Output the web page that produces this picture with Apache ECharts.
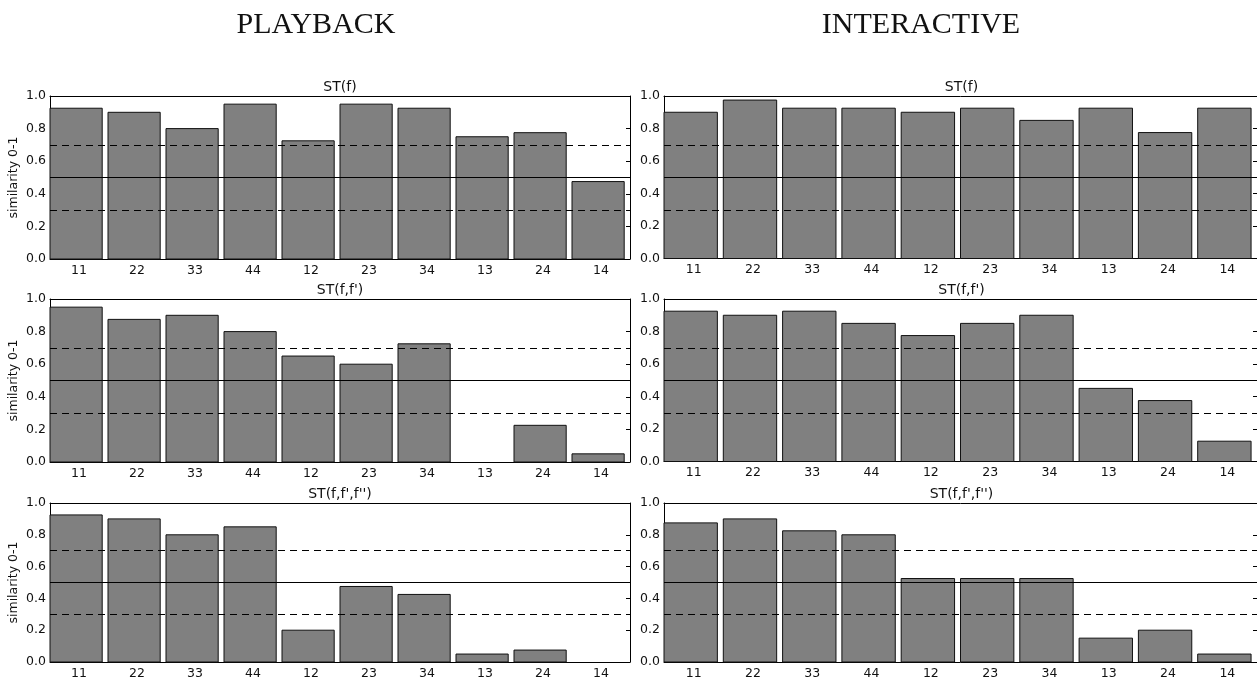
<!DOCTYPE html>
<html>
<head>
<meta charset="utf-8">
<title>Similarity per pair</title>
<script src="https://cdn.jsdelivr.net/npm/echarts@6/dist/echarts.min.js"></script>
<style>
  html, body { margin: 0; padding: 0; background: #fff; }
  #chart { width: 1257px; height: 680px; }
</style>
</head>
<body>
<div id="chart"></div>
<script>
// Pair labels along the x axis
const categories = ['11', '22', '33', '44', '12', '23', '34', '13', '24', '14'];
const yTicks = [0, 0.2, 0.4, 0.6, 0.8, 1.0];
const columnHeaders = ['PLAYBACK', 'INTERACTIVE'];
const rowTitles = ['ST(f)', "ST(f,f')", "ST(f,f',f'')"];
const yName = 'similarity 0-1';

// Reference thresholds
const midLevel = 0.5;
const bandLevels = [0.3, 0.7];

// Playback similarities
const playbackF = [0.925, 0.9, 0.8, 0.95, 0.725, 0.95, 0.925, 0.75, 0.775, 0.475];
const playbackFF = [0.95, 0.875, 0.9, 0.8, 0.65, 0.6, 0.725, 0, 0.225, 0.05];
const playbackFFF = [0.925, 0.9, 0.8, 0.85, 0.2, 0.475, 0.425, 0.05, 0.075, 0];

// Interactive similarities
const interactiveF = [0.9, 0.975, 0.925, 0.925, 0.9, 0.925, 0.85, 0.925, 0.775, 0.925];
const interactiveFF = [0.925, 0.9, 0.925, 0.85, 0.775, 0.85, 0.9, 0.45, 0.375, 0.125];
const interactiveFFF = [0.875, 0.9, 0.825, 0.8, 0.525, 0.525, 0.525, 0.15, 0.2, 0.05];

const panels = [
  [playbackF, interactiveF],
  [playbackFF, interactiveFF],
  [playbackFFF, interactiveFFF]
];

// Panel geometry (pixels)
const colLeft = [50, 664];
const colWidth = [580, 597];
const rowTop = [96, 299, 503];
const rowHeight = [[163, 162.5], [163, 162.5], [163.5, 161.5]];

const FONT = 'DejaVu Sans';
const INK = '#000';
const DASH = [7, 5];

const grids = [], xAxes = [], yAxes = [], series = [], graphics = [];

// Each bar starts at the left edge of its category slot and fills 90% of it
function barShape(params, api) {
  const idx = api.value(0);
  const val = api.value(1);
  if (!(val > 0)) return null;
  const base = api.coord([idx, 0]);
  const top = api.coord([idx, val]);
  const w = api.size([1, 0])[0];
  return {
    type: 'rect',
    shape: { x: base[0] - w / 2, y: top[1], width: w * 0.9, height: base[1] - top[1] },
    style: { fill: '#808080', stroke: '#111', lineWidth: 1 }
  };
}

let g = 0;
for (let r = 0; r < 3; r++) {
  for (let c = 0; c < 2; c++) {
    grids.push({ left: colLeft[c], top: rowTop[r], width: colWidth[c], height: rowHeight[r][c], containLabel: false });

    // bottom axis with labels, top axis for the frame and ticks
    xAxes.push({
      type: 'category', gridIndex: g, data: categories, boundaryGap: true, position: 'bottom',
      axisLine: { onZero: false, lineStyle: { color: INK, width: 1 } },
      axisTick: { inside: true, length: 4, alignWithLabel: true, lineStyle: { color: INK } },
      axisLabel: { color: '#111', fontFamily: FONT, fontSize: 12.5, margin: 5 },
      splitLine: { show: false }
    });
    xAxes.push({
      type: 'category', gridIndex: g, data: categories, boundaryGap: true, position: 'top',
      axisLine: { onZero: false, lineStyle: { color: INK, width: 1 } },
      axisTick: { inside: true, length: 4, alignWithLabel: true, lineStyle: { color: INK } },
      axisLabel: { show: false }, splitLine: { show: false }
    });

    yAxes.push({
      type: 'value', gridIndex: g, min: yTicks[0], max: yTicks[yTicks.length - 1], interval: 0.2,
      position: 'left',
      name: c === 0 ? yName : '', nameLocation: 'middle', nameGap: 30,
      nameTextStyle: { color: '#111', fontFamily: FONT, fontSize: 12.5 },
      axisLine: { show: true, onZero: false, lineStyle: { color: INK, width: 1 } },
      axisTick: { show: true, inside: true, length: 4, lineStyle: { color: INK } },
      axisLabel: { color: '#111', fontFamily: FONT, fontSize: 12.5, margin: 4, formatter: v => v.toFixed(1) },
      splitLine: { show: false }
    });
    yAxes.push({
      type: 'value', gridIndex: g, min: yTicks[0], max: yTicks[yTicks.length - 1], interval: 0.2,
      position: 'right',
      axisLine: { show: true, onZero: false, lineStyle: { color: INK, width: 1 } },
      axisTick: { show: true, inside: true, length: 4, lineStyle: { color: INK } },
      axisLabel: { show: false }, splitLine: { show: false }
    });

    const values = panels[r][c];
    series.push({
      type: 'custom',
      name: columnHeaders[c] + ' ' + rowTitles[r],
      xAxisIndex: g * 2, yAxisIndex: g * 2,
      renderItem: barShape,
      encode: { x: 0, y: 1 },
      data: values.map((v, i) => [i, v]),
      clip: false,
      silent: true,
      markLine: {
        silent: true, symbol: 'none', label: { show: false },
        animation: false,
        data: [
          { yAxis: midLevel, lineStyle: { type: 'solid', color: '#000', width: 1 } },
          { yAxis: bandLevels[0], lineStyle: { type: DASH, color: '#000', width: 1 } },
          { yAxis: bandLevels[1], lineStyle: { type: DASH, color: '#000', width: 1 } }
        ]
      }
    });

    graphics.push({
      type: 'text', x: colLeft[c] + colWidth[c] / 2 - (c === 1 ? 1 : 0), y: rowTop[r] - 9,
      style: { text: rowTitles[r], fill: '#111', font: '14px "' + FONT + '"', textAlign: 'center', textVerticalAlign: 'middle' }
    });
    g++;
  }
}

// Column headers
const headerX = [316, 921];
columnHeaders.forEach((h, i) => {
  graphics.push({
    type: 'text', x: headerX[i], y: 25,
    style: { text: h, fill: '#111', font: '30px "Liberation Serif"', textAlign: 'center', textVerticalAlign: 'middle' }
  });
});

const chart = echarts.init(document.getElementById('chart'), null, { renderer: 'canvas' });
chart.setOption({
  animation: false,
  backgroundColor: '#fff',
  grid: grids,
  xAxis: xAxes,
  yAxis: yAxes,
  series: series,
  graphic: graphics
});
</script>
</body>
</html>
